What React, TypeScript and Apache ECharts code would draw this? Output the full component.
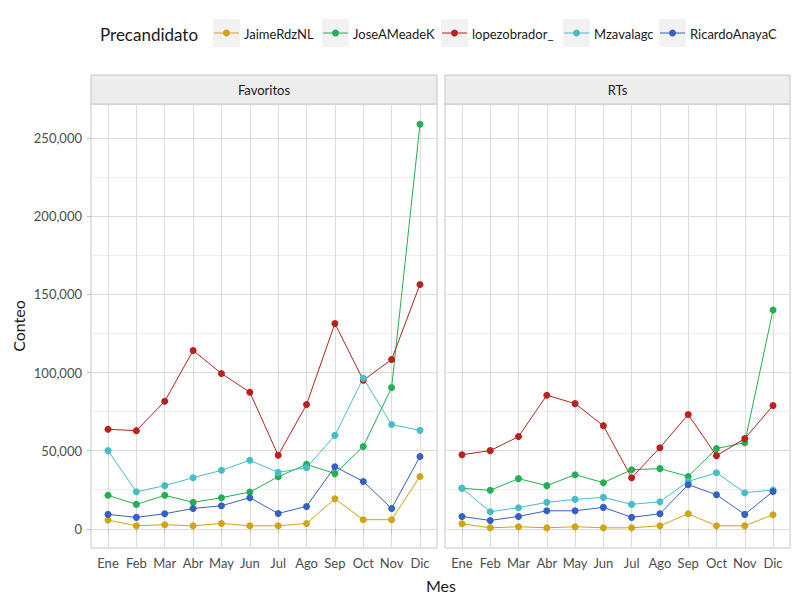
import React, { useEffect, useRef } from 'react';
import * as echarts from 'echarts';

// ---------- data ----------
const months = ['Ene', 'Feb', 'Mar', 'Abr', 'May', 'Jun', 'Jul', 'Ago', 'Sep', 'Oct', 'Nov', 'Dic'];
const candidates = ['JaimeRdzNL', 'JoseAMeadeK', 'lopezobrador_', 'Mzavalagc', 'RicardoAnayaC'];
const facets = ['Favoritos', 'RTs'];

const favJaime = [5600, 1900, 2600, 1900, 3400, 1900, 1900, 3400, 19200, 5800, 5800, 33500];
const favJose = [21400, 15600, 21400, 16900, 19900, 23500, 33300, 41200, 35300, 52600, 90400, 259000];
const favLopez = [63700, 62800, 81600, 114100, 99400, 87400, 47000, 79500, 131400, 95100, 108300, 156400];
const favMzavala = [50000, 23700, 27600, 32700, 37400, 43800, 36100, 39100, 59800, 96400, 66700, 63000];
const favRicardo = [9200, 7300, 9600, 13000, 14700, 19900, 9800, 14300, 39700, 30300, 13000, 46200];

const rtJaime = [3200, 600, 1300, 600, 1300, 600, 600, 1900, 9600, 1900, 1900, 9000];
const rtJose = [25900, 24600, 32100, 27600, 34600, 29500, 37800, 38500, 33500, 51300, 55100, 140000];
const rtLopez = [47400, 50000, 59000, 85500, 80100, 66000, 32700, 51900, 73100, 46800, 57700, 78900];
const rtMzavala = [25900, 10900, 13500, 16900, 18800, 20100, 15600, 17300, 30300, 35900, 23100, 24800];
const rtRicardo = [7900, 5300, 7900, 11500, 11500, 13700, 7300, 9600, 28200, 21800, 9200, 23900];

const yTicks = [0, 50000, 100000, 150000, 200000, 250000];
const yMinorTicks = [25000, 75000, 125000, 175000, 225000];

// ---------- styles ----------
const colors = ['#D1A414', '#22B052', '#B8221E', '#45BEC7', '#3560C5'];
const FONT = 'Lato, "Noto Sans", sans-serif';
const MAJOR = '#DCDCDC';
const MINOR = '#EEEEEE';
const BORDER = '#C6C6C6';

export default function App() {
  const ref = useRef<HTMLDivElement>(null);

  useEffect(() => {
    const chart = echarts.init(ref.current!, null, { renderer: 'svg' });

    const facetData = [
      [favJaime, favJose, favLopez, favMzavala, favRicardo],
      [rtJaime, rtJose, rtLopez, rtMzavala, rtRicardo],
    ];
    const all = facetData.flat(2);
    const dMin = Math.min(...all);
    const dMax = Math.max(...all);
    const span = dMax - dMin;
    const yMin = dMin - 0.05 * span;
    const yMax = dMax + 0.05 * span;
    const nx = months.length;
    const xMin = -0.6;
    const xMax = nx - 1 + 0.6;
    const monthIdx = months.map((_, i) => i);

    const panels = [
      { left: 91, width: 346 },
      { left: 445, width: 345 },
    ];
    const top = 104;
    const height = 444;

    const grid = panels.map((p) => ({
      left: p.left,
      top,
      width: p.width,
      height,
      show: true,
      borderColor: BORDER,
      borderWidth: 1,
      backgroundColor: '#FFFFFF',
      containLabel: false,
    }));

    const xAxis = panels.map((_, g) => ({
      type: 'value',
      gridIndex: g,
      min: xMin,
      max: xMax,
      axisLine: { show: false },
      axisTick: { show: true, length: 4, lineStyle: { color: '#BDBDBD' }, customValues: monthIdx },
      axisLabel: {
        customValues: monthIdx,
        formatter: (v: number) => months[Math.round(v)] ?? '',
        color: '#4D4D4D',
        fontFamily: FONT,
        fontSize: 13,
        margin: 8,
      },
      splitLine: { show: true, lineStyle: { color: MAJOR, width: 1 } },
    }));

    const minorY = panels.map((_, g) => ({
      type: 'value',
      gridIndex: g,
      position: 'left',
      min: yMin,
      max: yMax,
      axisLine: { show: false },
      axisTick: { show: false, customValues: yMinorTicks },
      axisLabel: { show: false, customValues: yMinorTicks },
      splitLine: { show: true, lineStyle: { color: MINOR, width: 1 } },
    }));
    const majorY = panels.map((_, g) => ({
      type: 'value',
      gridIndex: g,
      position: 'left',
      min: yMin,
      max: yMax,
      axisLine: { show: false },
      axisTick: { show: g === 0, length: 4, lineStyle: { color: '#BDBDBD' }, customValues: yTicks },
      axisLabel: {
        show: g === 0,
        customValues: yTicks,
        formatter: (v: number) => Math.round(v).toLocaleString('en-US'),
        color: '#4D4D4D',
        fontFamily: FONT,
        fontSize: 13,
        margin: 9,
      },
      splitLine: { show: true, lineStyle: { color: MAJOR, width: 1 } },
    }));

    const series: any[] = [];
    facetData.forEach((group, g) => {
      group.forEach((vals, c) => {
        series.push({
          type: 'line',
          name: candidates[c] + ' ' + facets[g],
          xAxisIndex: g,
          yAxisIndex: 2 + g,
          data: vals.map((v, i) => [i, v]),
          showSymbol: false,
          symbol: 'none',
          lineStyle: { color: colors[c], width: 1 },
          z: 2,
          silent: true,
        });
      });
    });
    facetData.forEach((group, g) => {
      group.forEach((vals, c) => {
        series.push({
          type: 'scatter',
          name: candidates[c] + ' pts ' + facets[g],
          xAxisIndex: g,
          yAxisIndex: 2 + g,
          data: vals.map((v, i) => [i, v]),
          symbol: 'circle',
          symbolSize: 7,
          itemStyle: { color: colors[c], opacity: 1 },
          z: 3,
          silent: true,
        });
      });
    });

    // strips
    const stripEls: any[] = [];
    panels.forEach((p, g) => {
      stripEls.push({
        type: 'rect',
        shape: { x: p.left, y: 75, width: p.width, height: 29 },
        style: { fill: '#EDEDED', stroke: BORDER, lineWidth: 1 },
      });
      stripEls.push({
        type: 'text',
        x: p.left + p.width / 2,
        y: 90,
        style: {
          text: facets[g],
          fill: '#1A1A1A',
          font: `13px ${FONT}`,
          align: 'center',
          verticalAlign: 'middle',
        },
      });
    });

    // legend
    const keyX = [213, 322, 441, 563, 659];
    const legendEls: any[] = [
      {
        type: 'text',
        x: 100,
        y: 34,
        style: {
          text: 'Precandidato',
          fill: '#1A1A1A',
          font: `17px ${FONT}`,
          align: 'left',
          verticalAlign: 'middle',
        },
      },
    ];
    candidates.forEach((name, c) => {
      const kx = keyX[c];
      legendEls.push({
        type: 'rect',
        shape: { x: kx, y: 19, width: 27, height: 28 },
        style: { fill: '#F2F2F2' },
      });
      legendEls.push({
        type: 'line',
        shape: { x1: kx + 1, y1: 33, x2: kx + 26, y2: 33 },
        style: { stroke: colors[c], lineWidth: 1 },
      });
      legendEls.push({
        type: 'circle',
        shape: { cx: kx + 13.5, cy: 33, r: 3.5 },
        style: { fill: colors[c] },
      });
      legendEls.push({
        type: 'text',
        x: kx + 31,
        y: 34,
        style: {
          text: name,
          fill: '#1A1A1A',
          font: `13px ${FONT}`,
          align: 'left',
          verticalAlign: 'middle',
        },
      });
    });

    const titleEls: any[] = [
      {
        type: 'text',
        x: 441,
        y: 585,
        style: { text: 'Mes', fill: '#1A1A1A', font: `16px ${FONT}`, align: 'center', verticalAlign: 'middle' },
      },
      {
        type: 'text',
        x: 18,
        y: 326,
        rotation: Math.PI / 2,
        style: { text: 'Conteo', fill: '#1A1A1A', font: `16px ${FONT}`, align: 'center', verticalAlign: 'middle' },
      },
    ];

    chart.setOption({
      animation: false,
      backgroundColor: '#FFFFFF',
      textStyle: { fontFamily: FONT },
      grid,
      xAxis,
      yAxis: [...minorY, ...majorY],
      series,
      graphic: { elements: [...stripEls, ...legendEls, ...titleEls] },
    });

    return () => chart.dispose();
  }, []);

  return (
    <div
      ref={ref}
      style={{ position: 'absolute', left: 0, top: 0, width: 800, height: 600 }}
    />
  );
}
